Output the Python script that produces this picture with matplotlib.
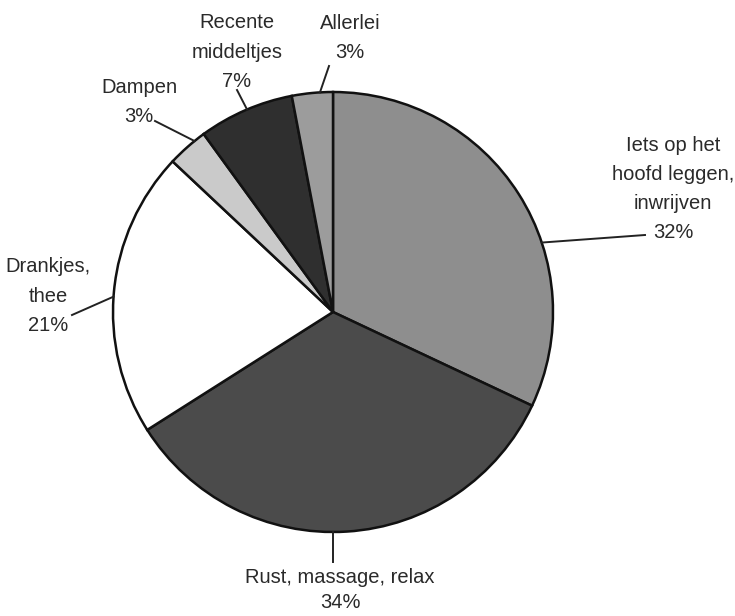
import numpy as np
import matplotlib
matplotlib.use('Agg')
import matplotlib.pyplot as plt

labels = ['Iets op het\nhoofd leggen,\ninwrijven', 'Rust, massage, relax', 'Drankjes,\nthee',
          'Dampen', 'Recente\nmiddeltjes', 'Allerlei']
values = [32, 34, 21, 3, 7, 3]
colors = ['#8e8e8e', '#4b4b4b', '#ffffff', '#cacaca', '#2f2f2f', '#9c9c9c']

# leader line: angle on the rim (deg), end point of line, text centre (pixels, y down)
anchor_angle = [18.4, -90, 176, 129, 113, 93.4]
line_end = [(645, 235), (333, 562), (72, 315), (155, 121), (237, 90), (329, 66)]
text_pos = [(673, 189), (340, 590), (48, 296), (139, 102), (237, 52), (350, 38)]

W, H = 735, 616
cx, cy, r = 333, 312, 220

plt.rcParams['font.family'] = ['Liberation Sans Narrow', 'Liberation Sans', 'DejaVu Sans']

fig = plt.figure(figsize=(W / 100, H / 100), dpi=100)
ax = fig.add_axes([0, 0, 1, 1])

ax.pie(values, colors=colors, startangle=90, counterclock=False, center=(cx, H - cy), radius=r,
       wedgeprops=dict(edgecolor='#111111', linewidth=1.8), frame=True)
ax.set_xlim(0, W)
ax.set_ylim(0, H)
ax.set_aspect('equal')
ax.axis('off')

for lab, v, a, le, tp in zip(labels, values, anchor_angle, line_end, text_pos):
    x0 = cx + r * np.cos(np.radians(a))
    y0 = (H - cy) + r * np.sin(np.radians(a))
    ax.plot([x0, le[0]], [y0, H - le[1]], color='#222222', lw=1.4)
    ls = 1.45 if lab.startswith('Rust') else 1.68
    ax.text(tp[0], H - tp[1], f'{lab}\n{v}%', ha='center', va='center', fontsize=14.5,
            color='#2a2a2a', linespacing=ls)

fig.savefig('out.png', dpi=100)
